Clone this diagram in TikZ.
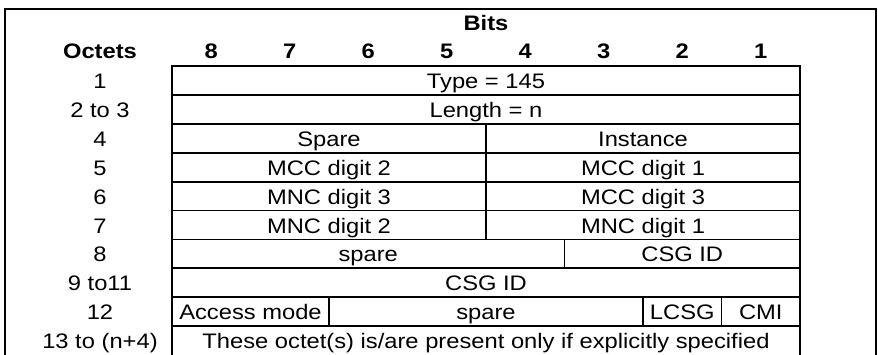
\documentclass[tikz,border=0pt]{standalone}
\usepackage{fontspec}
\setmainfont{Liberation Sans}[FakeStretch=1.13]
\begin{document}
\begin{tikzpicture}[x=1pt,y=-1pt,line width=1.8pt,
    txt/.style={anchor=base,inner sep=0pt,font=\fontsize{21}{24}\selectfont},
    hdr/.style={txt,font=\fontsize{21}{24}\selectfont\bfseries}]
      \useasboundingbox (0,0) rectangle (878,354);
      \clip (0,0) rectangle (878,354);
      % outer frame and table
      \draw (5,9) rectangle (876,420);
      \draw (172,66) rectangle (800,420);
      \draw (172,94.9)--(800,94.9);
      \draw (172,123.8)--(800,123.8);
      \draw (172,152.7)--(800,152.7);
      \draw (172,181.6)--(800,181.6);
      \draw (172,210.5)--(800,210.5);
      \draw (172,239.4)--(800,239.4);
      \draw (172,268.3)--(800,268.3);
      \draw (172,297.2)--(800,297.2);
      \draw (172,326.1)--(800,326.1);
      \draw (486,123.8)--(486,239.4);
      \draw (564.5,239.4)--(564.5,268.3);
      \draw (329,297.2)--(329,326.1);
      \draw (643,297.2)--(643,326.1);
      \draw (721.5,297.2)--(721.5,326.1);
      % headings
      \node[hdr] (bits) at (486,30.7) {Bits};
      \node[hdr] (octets) at (100,58.5) {Octets};
      \node[hdr] (b8) at (211.25,58.5) {8};
      \node[hdr] (b7) at (289.75,58.5) {7};
      \node[hdr] (b6) at (368.25,58.5) {6};
      \node[hdr] (b5) at (446.75,58.5) {5};
      \node[hdr] (b4) at (525.25,58.5) {4};
      \node[hdr] (b3) at (603.75,58.5) {3};
      \node[hdr] (b2) at (682.25,58.5) {2};
      \node[hdr] (b1) at (760.75,58.5) {1};
      % octet numbers
      \node[txt] (o1) at (100,88.5) {1};
      \node[txt] (o2) at (100,117.4) {2 to 3};
      \node[txt] (o4) at (100,146.3) {4};
      \node[txt] (o5) at (100,175.2) {5};
      \node[txt] (o6) at (100,204.1) {6};
      \node[txt] (o7) at (100,233.0) {7};
      \node[txt] (o8) at (100,261.9) {8};
      \node[txt] (o9) at (100,290.8) {9 to11};
      \node[txt] (o12) at (100,319.7) {12};
      \node[txt] (o13) at (100,348.6) {13 to (n+4)};
      % fields
      \node[txt] (type) at (486,88.5) {Type = 145};
      \node[txt] (length) at (486,117.4) {Length = n};
      \node[txt] (spare4) at (329,146.3) {Spare};
      \node[txt] (inst) at (643,146.3) {Instance};
      \node[txt] (mcc2) at (329,175.2) {MCC digit 2};
      \node[txt] (mcc1) at (643,175.2) {MCC digit 1};
      \node[txt] (mnc3) at (329,204.1) {MNC digit 3};
      \node[txt] (mcc3) at (643,204.1) {MCC digit 3};
      \node[txt] (mnc2) at (329,233.0) {MNC digit 2};
      \node[txt] (mnc1) at (643,233.0) {MNC digit 1};
      \node[txt] (spare8) at (368.25,261.9) {spare};
      \node[txt] (csga) at (682.25,261.9) {CSG ID};
      \node[txt] (csgb) at (486,290.8) {CSG ID};
      \node[txt] (access) at (250.5,319.7) {Access mode};
      \node[txt] (spare12) at (486,319.7) {spare};
      \node[txt] (lcsg) at (682.25,319.7) {LCSG};
      \node[txt] (cmi) at (760.75,319.7) {CMI};
      \node[txt] (extra) at (486,348.6) {These octet(s) is/are present only if explicitly specified};
    \end{tikzpicture}
\end{document}
